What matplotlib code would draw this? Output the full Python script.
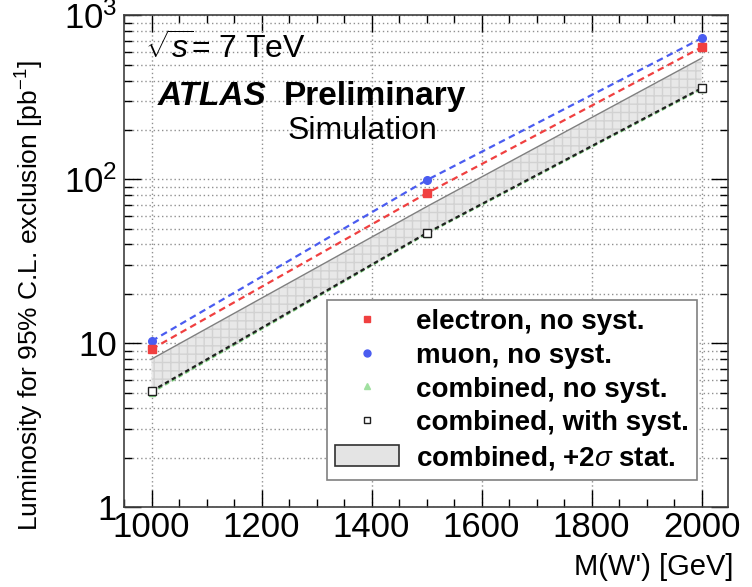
import matplotlib.pyplot as plt
from matplotlib.patches import Patch
from matplotlib.lines import Line2D
from matplotlib.ticker import FixedLocator, FixedFormatter, LogLocator, NullFormatter, MultipleLocator

plt.rcParams['font.family'] = ['Liberation Sans', 'DejaVu Sans']
plt.rcParams['mathtext.fontset'] = 'custom'
plt.rcParams['mathtext.rm'] = 'Liberation Sans'
plt.rcParams['mathtext.it'] = 'Liberation Sans:italic'

mass = [1000, 1500, 2000]
lumi_electron = [9.2, 82, 638]
lumi_muon = [10.3, 98.6, 724]
lumi_comb_nosyst = [5.0, 46.5, 355]
lumi_comb_syst = [5.1, 46.9, 359]
lumi_comb_2sigma = [8.0, 68, 547]

fig = plt.figure(figsize=(7.52, 5.87), dpi=100)
ax = fig.add_axes([0.165, 0.136, 0.803, 0.838])

# +2 sigma band
ax.fill_between(mass, lumi_comb_nosyst, lumi_comb_2sigma, facecolor='#e8e8e8',
                edgecolor='#d2d2d2', hatch='++', linewidth=0, zorder=2)
ax.plot(mass, lumi_comb_2sigma, color='#808080', lw=1.0, zorder=3)

ax.plot(mass, lumi_muon, ls=(0, (3, 2)), color='#4a5cf0', lw=1.6,
        marker='o', ms=5.5, zorder=4)
ax.plot(mass, lumi_electron, ls=(0, (3, 2)), color='#f04040', lw=1.6,
        marker='s', ms=5.5, zorder=4)
ax.plot(mass, lumi_comb_nosyst, ls=(0, (2, 1.5)), color='#80d080', lw=1.6,
        marker='^', ms=5, zorder=4)
ax.plot(mass, lumi_comb_syst, ls=(0, (2, 1.5)), color='#202020', lw=1.6,
        marker='s', ms=6, mfc='white', mec='#202020', mew=1.0, zorder=5)

ax.set_yscale('log')
ax.set_xlim(950, 2048)
ax.set_ylim(1, 1000)

ax.xaxis.set_major_locator(MultipleLocator(200))
ax.xaxis.set_minor_locator(MultipleLocator(50))
ax.yaxis.set_major_locator(FixedLocator([1, 10, 100, 1000]))
ax.yaxis.set_major_formatter(FixedFormatter(['1', '10', r'$10^2$', r'$10^3$']))
ax.yaxis.set_minor_locator(LogLocator(base=10, subs=range(2, 10)))
ax.yaxis.set_minor_formatter(NullFormatter())

ax.tick_params(which='both', direction='in', top=True, right=True, labelsize=25)
ax.tick_params(which='major', length=12, width=1.0)
ax.tick_params(which='minor', length=6, width=1.0)
ax.tick_params(axis='y', pad=5)
ax.tick_params(axis='x', pad=3)

ax.grid(which='major', axis='both', ls=(0, (1, 2)), color='#909090', lw=1.0)
ax.grid(which='minor', axis='y', ls=(0, (1, 2)), color='#909090', lw=1.0)
ax.set_axisbelow(True)
for s in ax.spines.values():
    s.set_color('#404040')
    s.set_linewidth(1.2)

ax.set_ylabel(r'Luminosity for 95% C.L. exclusion [pb$^{-1}$]', fontsize=19)
ax.yaxis.set_label_coords(-0.13, 0.43)
ax.set_xlabel("M(W') [GeV]", fontsize=21, loc='right')
ax.xaxis.set_label_coords(1.01, -0.094)

ax.text(0.035, 0.965, r'$\sqrt{s}$= 7 TeV', transform=ax.transAxes,
        fontsize=23, va='top', ha='left')
ax.text(0.055, 0.835, 'ATLAS', transform=ax.transAxes, fontsize=24,
        fontweight='bold', style='italic', va='center')
ax.text(0.265, 0.835, 'Preliminary', transform=ax.transAxes, fontsize=24,
        fontweight='bold', va='center')
ax.text(0.27, 0.765, 'Simulation', transform=ax.transAxes, fontsize=23,
        va='center')

handles = [
    Line2D([], [], ls='none', marker='s', ms=5, color='#f04040'),
    Line2D([], [], ls='none', marker='o', ms=5, color='#4a5cf0'),
    Line2D([], [], ls='none', marker='^', ms=5, color='#a0e0a0'),
    Line2D([], [], ls='none', marker='s', ms=5, mfc='white', mec='#202020'),
    Patch(facecolor='#e4e4e4', edgecolor='#303030', lw=1.2),
]
labels = ['electron, no syst.', 'muon, no syst.', 'combined, no syst.',
          'combined, with syst.', r'combined, +2$\sigma$ stat.']
leg = ax.legend(handles, labels, loc='lower left', bbox_to_anchor=(0.336, 0.055),
                frameon=True, fancybox=False, edgecolor='#808080', framealpha=1,
                prop={'weight': 'bold', 'size': 20}, handlelength=2.3,
                handleheight=0.8, handletextpad=0.6, labelspacing=0.27,
                borderpad=0.3, borderaxespad=0)
leg.get_frame().set_linewidth(1.2)
leg.set_zorder(10)

fig.savefig('out.png', dpi=100)
